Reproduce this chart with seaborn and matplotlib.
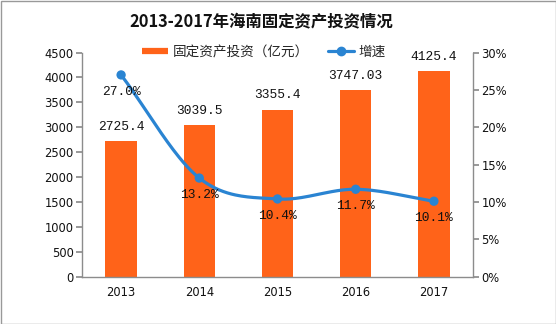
import numpy as np
import pandas as pd
import matplotlib
matplotlib.use("Agg")
import matplotlib.pyplot as plt
import seaborn as sns
from matplotlib.patches import Rectangle
from matplotlib.lines import Line2D

years = ["2013", "2014", "2015", "2016", "2017"]
invest = [2725.4, 3039.5, 3355.4, 3747.03, 4125.4]
invest_labels = ["2725.4", "3039.5", "3355.4", "3747.03", "4125.4"]
growth = [27.0, 13.2, 10.4, 11.7, 10.1]
growth_labels = ["27.0%", "13.2%", "10.4%", "11.7%", "10.1%"]
left_ticks = [0, 500, 1000, 1500, 2000, 2500, 3000, 3500, 4000, 4500]
right_ticks = [0, 5, 10, 15, 20, 25, 30]

title = "2013-2017年海南固定资产投资情况"
bar_name = "固定资产投资（亿元）"
line_name = "增速"

BAR_C = "#FF6319"
LINE_C = "#2A84D2"
AX_C = "#8C8C8C"

sns.set_theme(style="white")
plt.rcParams["font.family"] = ["Noto Sans CJK SC", "DejaVu Sans"]

fig = plt.figure(figsize=(5.56, 3.24), dpi=100)
ax = fig.add_axes([82/556, 1-276.7/324, (473-82)/556, (276.7-52.5)/324])

df = pd.DataFrame({"year": years, "invest": invest})
sns.barplot(data=df, x="year", y="invest", color=BAR_C, width=0.4, ax=ax,
            saturation=1, edgecolor="none")
ax.set_ylim(0, 4500)
ax.set_xlim(-0.5, 4.5)
ax.set_yticks(left_ticks)
ax.set_yticklabels([str(t) for t in left_ticks], family="DejaVu Sans", fontsize=8.3)
ax.set_xlabel("")
ax.set_ylabel("")
for i, (v, lab) in enumerate(zip(invest, invest_labels)):
    ax.annotate(lab, (i, v), xytext=(0, 6), textcoords="offset points",
                ha="center", va="bottom", family="Liberation Mono", fontsize=9.3,
                color="#111111")

# x ticks at category boundaries
ax.set_xticks([i - 0.5 for i in range(6)], minor=False)
ax.set_xticklabels([""] * 6)
ax.set_xticks(range(5), minor=True)
ax.set_xticklabels(years, minor=True, family="DejaVu Sans", fontsize=8.3)
ax.tick_params(axis="x", which="minor", length=0, pad=7, colors="#111111")
ax.tick_params(axis="x", which="major", length=4, color=AX_C, direction="out")
ax.tick_params(axis="y", length=4, color=AX_C, direction="out", left=True, pad=2,
               labelcolor="#111111")

for s in ["top", "right"]:
    ax.spines[s].set_visible(False)
for s in ["left", "bottom"]:
    ax.spines[s].set_color(AX_C)
    ax.spines[s].set_linewidth(1)

ax2 = ax.twinx()
ax2.set_ylim(0, 30)
ax2.set_xlim(-0.5, 4.5)

# smooth Catmull-Rom curve through the growth points
xs = np.arange(len(growth), dtype=float)
ys = np.array(growth, dtype=float)
px = np.concatenate([[2*xs[0]-xs[1]], xs, [2*xs[-1]-xs[-2]]])
py = np.concatenate([[2*ys[0]-ys[1]], ys, [2*ys[-1]-ys[-2]]])
cx, cy = [], []
t = np.linspace(0, 1, 40)
for k in range(1, len(px)-2):
    p0, p1, p2, p3 = [np.array([px[j], py[j]]) for j in (k-1, k, k+1, k+2)]
    b1 = p1 + (p2 - p0) / 6
    b2 = p2 - (p3 - p1) / 6
    seg = ((1-t)**3)[:, None]*p1 + (3*(1-t)**2*t)[:, None]*b1 + (3*(1-t)*t**2)[:, None]*b2 + (t**3)[:, None]*p2
    cx.extend(seg[:, 0]); cy.extend(seg[:, 1])
ax2.plot(cx, cy, color=LINE_C, lw=2.3, solid_capstyle="round", zorder=3)
gdf = pd.DataFrame({"x": xs, "g": ys})
sns.scatterplot(data=gdf, x="x", y="g", color=LINE_C, s=45, edgecolor="none",
                ax=ax2, zorder=4, legend=False)
for i, (v, lab) in enumerate(zip(growth, growth_labels)):
    ax2.annotate(lab, (i, v), xytext=(0, -8), textcoords="offset points",
                 ha="center", va="top", family="Liberation Mono", fontsize=9.3,
                 color="#111111")
ax2.set_yticks(right_ticks)
ax2.set_yticklabels([f"{t}%" for t in right_ticks], family="DejaVu Sans", fontsize=8.3)
ax2.set_xlabel("")
ax2.set_ylabel("")
ax2.tick_params(axis="y", length=4, color=AX_C, direction="out", right=True, pad=2,
                labelcolor="#111111")
for s in ["top", "left", "bottom"]:
    ax2.spines[s].set_visible(False)
ax2.spines["right"].set_color(AX_C)
ax2.spines["right"].set_linewidth(1)

fig.text(261/556, 1-22/324, title, ha="center", va="center", fontsize=11.8,
         fontweight="bold", color="#111111",
         family=["Noto Sans CJK SC", "DejaVu Sans"])

handles = [Line2D([0], [0], color=BAR_C, lw=4.5, solid_capstyle="butt"),
           Line2D([0], [0], color=LINE_C, lw=2.3, marker="o", markersize=6)]
fig.legend(handles, [bar_name, line_name], loc="center",
           bbox_to_anchor=(264/556, 1-52/324), ncol=2, frameon=False,
           handlelength=1.9, columnspacing=1.4, handletextpad=0.35,
           prop={"family": ["Noto Sans CJK SC", "DejaVu Sans"], "size": 9.8})

fig.patches.append(Rectangle((0.5/556, 0.5/324), 1-1/556, 1-1/324,
                             transform=fig.transFigure, fill=False,
                             edgecolor="#999999", lw=1))

fig.savefig("out.png", dpi=100)
